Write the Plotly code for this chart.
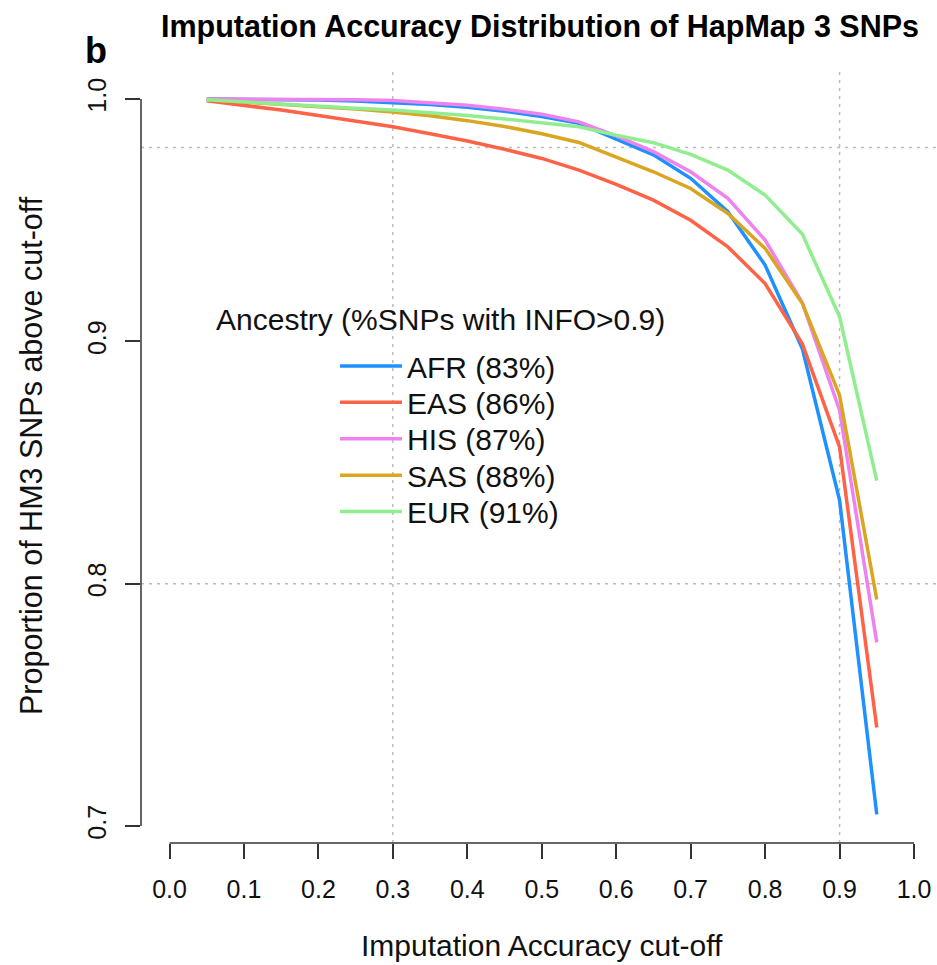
import plotly.graph_objects as go

# ---------------- data ----------------
cutoff = [0.05, 0.10, 0.15, 0.20, 0.25, 0.30, 0.35, 0.40, 0.45, 0.50,
          0.55, 0.60, 0.65, 0.70, 0.75, 0.80, 0.85, 0.90, 0.95]
afr = [1.0000, 0.9999, 0.9998, 0.9996, 0.9992, 0.9986, 0.9978, 0.9966, 0.9950, 0.9928,
       0.9900, 0.9835, 0.9770, 0.9673, 0.9535, 0.9315, 0.8970, 0.8345, 0.7048]
eas = [0.9993, 0.9975, 0.9955, 0.9932, 0.9910, 0.9886, 0.9857, 0.9827, 0.9793, 0.9755,
       0.9707, 0.9648, 0.9583, 0.9500, 0.9390, 0.9239, 0.8990, 0.8565, 0.7407]
his = [1.0000, 1.0000, 0.9999, 0.9998, 0.9997, 0.9994, 0.9986, 0.9975, 0.9958, 0.9937,
       0.9906, 0.9848, 0.9783, 0.9700, 0.9590, 0.9418, 0.9160, 0.8716, 0.7758]
sas = [0.9997, 0.9988, 0.9980, 0.9970, 0.9959, 0.9947, 0.9931, 0.9911, 0.9887, 0.9857,
       0.9821, 0.9760, 0.9700, 0.9631, 0.9528, 0.9384, 0.9157, 0.8778, 0.7935]
eur = [0.9997, 0.9988, 0.9978, 0.9970, 0.9962, 0.9955, 0.9945, 0.9932, 0.9918, 0.9903,
       0.9886, 0.9851, 0.9820, 0.9772, 0.9707, 0.9604, 0.9443, 0.9102, 0.8425]

series_names = ["AFR (83%)", "EAS (86%)", "HIS (87%)", "SAS (88%)", "EUR (91%)"]
series_values = [afr, eas, his, sas, eur]
series_colors = ["#1E90FF", "#FF6347", "#EE82EE", "#DAA520", "#90EE90"]

x_ticks = [0.0, 0.1, 0.2, 0.3, 0.4, 0.5, 0.6, 0.7, 0.8, 0.9, 1.0]
x_ticklabels = ["0.0", "0.1", "0.2", "0.3", "0.4", "0.5", "0.6", "0.7", "0.8", "0.9", "1.0"]
y_ticks = [0.7, 0.8, 0.9, 1.0]
y_ticklabels = ["0.7", "0.8", "0.9", "1.0"]
grid_x = [0.3, 0.9]
grid_y = [0.98, 0.8]

title_text = "Imputation Accuracy Distribution of HapMap 3 SNPs"
x_title = "Imputation Accuracy cut-off"
y_title = "Proportion of HM3 SNPs above cut-off"
legend_title = "Ancestry (%SNPs with INFO>0.9)"
panel_label = "b"

# ---------------- layout geometry ----------------
W, H = 937, 965
ML, MR, MT, MB = 141, 0, 70, 122
PW, PH = W - ML - MR, H - MT - MB


def pxx(p):
    return (p - ML) / PW


def pxy(p):
    return (H - MB - p) / PH


FONT = "Liberation Sans, Arial, Helvetica, sans-serif"
AX = "#333333"

fig = go.Figure()

legend_rows = [366, 402.3, 438.7, 475.2, 511.6]
for i, (name, vals, col) in enumerate(zip(series_names, series_values, series_colors)):
    lg = "legend" if i == 0 else f"legend{i + 1}"
    fig.add_trace(go.Scatter(
        x=cutoff, y=vals, mode="lines", name=name,
        line=dict(color=col, width=3.5),
        legend=lg, hoverinfo="x+y+name",
    ))

legends = {}
for i, ry in enumerate(legend_rows):
    key = "legend" if i == 0 else f"legend{i + 1}"
    legends[key] = dict(
        x=pxx(335), y=pxy(ry), xanchor="left", yanchor="middle",
        font=dict(family=FONT, size=30, color="#111111"),
        bgcolor="rgba(0,0,0,0)", borderwidth=0, itemwidth=62,
    )

shapes = []
for gx in grid_x:
    shapes.append(dict(type="line", xref="x", yref="paper", x0=gx, x1=gx, y0=0, y1=1,
                       line=dict(color="#BBBBBB", width=1.5, dash="3px,5px"), layer="below"))
for gy in grid_y:
    shapes.append(dict(type="line", xref="paper", yref="y", x0=0, x1=1, y0=gy, y1=gy,
                       line=dict(color="#BBBBBB", width=1.5, dash="3px,5px"), layer="below"))
# R-style axis lines spanning first..last tick
shapes.append(dict(type="line", xref="x", yref="paper", x0=x_ticks[0], x1=x_ticks[-1], y0=0, y1=0,
                   line=dict(color=AX, width=1.5), layer="above"))
shapes.append(dict(type="line", xref="paper", yref="y", x0=0, x1=0, y0=y_ticks[0], y1=y_ticks[-1],
                   line=dict(color=AX, width=1.5), layer="above"))

annotations = [
    dict(text=panel_label, xref="paper", yref="paper", x=pxx(96), y=pxy(51),
         xanchor="center", yanchor="middle", showarrow=False,
         font=dict(family=FONT, size=36, color="#000000", weight="bold")),
    dict(text=y_title, xref="paper", yref="paper", x=pxx(31), y=pxy(456),
         xanchor="center", yanchor="middle", textangle=-90, showarrow=False,
         font=dict(family=FONT, size=30.5, color="#111111")),
    dict(text=x_title, xref="paper", yref="paper", x=pxx(542), y=pxy(945),
         xanchor="center", yanchor="middle", showarrow=False,
         font=dict(family=FONT, size=30, color="#111111")),
    dict(text=legend_title, xref="paper", yref="paper", x=pxx(214), y=pxy(319),
         xanchor="left", yanchor="middle", showarrow=False,
         font=dict(family=FONT, size=30, color="#111111")),
]

fig.update_layout(
    width=W, height=H,
    margin=dict(l=ML, r=MR, t=MT, b=MB, pad=0),
    paper_bgcolor="white", plot_bgcolor="white",
    title=dict(text=title_text, x=540 / W, y=1 - 26 / H, xanchor="center", yanchor="middle",
               font=dict(family=FONT, size=30.5, color="#000000", weight="bold")),
    showlegend=True,
    shapes=shapes,
    annotations=annotations,
    xaxis=dict(range=[-0.0383, 1.0309], tickvals=x_ticks, ticktext=x_ticklabels,
               ticks="outside", ticklen=15, tickwidth=1.5, tickcolor=AX,
               showline=False, showgrid=False, zeroline=False,
               tickfont=dict(family=FONT, size=25, color="#111111"),
               ticklabelstandoff=9),
    yaxis=dict(range=[0.693, 1.012], tickvals=y_ticks, ticktext=y_ticklabels,
               ticks="outside", ticklen=15, tickwidth=1.5, tickcolor=AX, tickangle=-90,
               showline=False, showgrid=False, zeroline=False,
               tickfont=dict(family=FONT, size=25, color="#111111"),
               ticklabelstandoff=9),
    **legends,
)

fig.write_html("out.html")
